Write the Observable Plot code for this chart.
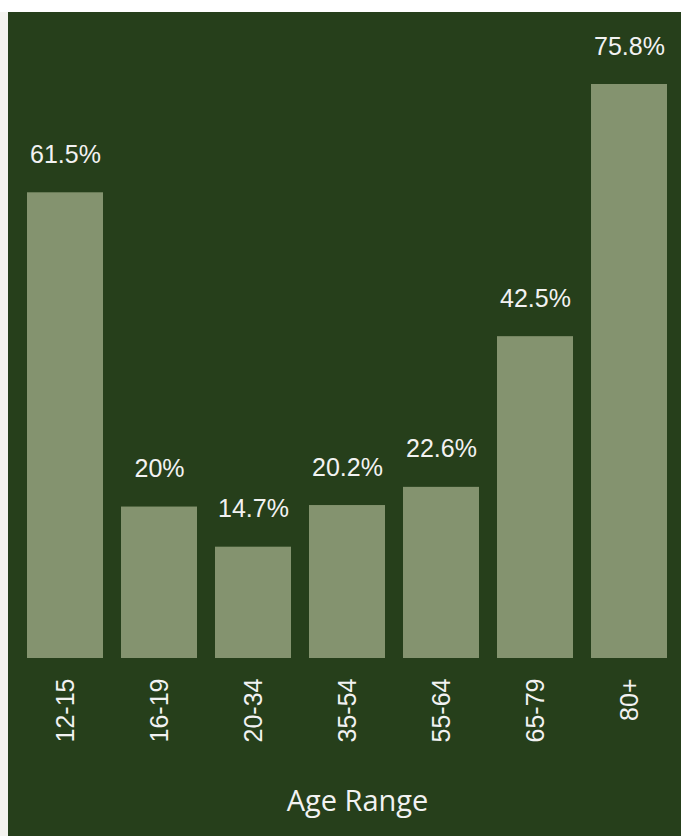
<!DOCTYPE html>
<html>
<head>
<meta charset="utf-8">
<script src="https://cdn.jsdelivr.net/npm/d3@7"></script>
<script src="https://cdn.jsdelivr.net/npm/@observablehq/plot@0.6"></script>
<style>
  html, body { margin: 0; padding: 0; background: #f4f3ef; }
  body { width: 681px; height: 836px; overflow: hidden; position: relative; }
  #top { position: absolute; left: 0; top: 0; width: 681px; height: 12px; background: #ffffff; }
  #chart { position: absolute; left: 8px; top: 12px; width: 673px; height: 824px; background: #263f1b; }
  #chart svg { display: block; }
</style>
</head>
<body>
<div id="top"></div>
<div id="chart"></div>
<script>
const ageRanges = ["12-15", "16-19", "20-34", "35-54", "55-64", "65-79", "80+"];
const percents = [61.5, 20, 14.7, 20.2, 22.6, 42.5, 75.8];
const valueLabels = ["61.5%", "20%", "14.7%", "20.2%", "22.6%", "42.5%", "75.8%"];
const axisTitle = "Age Range";

const data = ageRanges.map((a, i) => ({age: a, pct: percents[i], label: valueLabels[i]}));

const chart = Plot.plot({
  width: 673,
  height: 824,
  marginLeft: 18,
  marginRight: 13,
  marginTop: 72,
  marginBottom: 178,
  style: {background: "#263f1b", color: "#f2f2f2", fontFamily: "'Liberation Sans', Arial, sans-serif"},
  x: {domain: ageRanges, paddingInner: 0.194, paddingOuter: 0, axis: null},
  y: {domain: [0, 75.8], axis: null},
  marks: [
    Plot.barY(data, {x: "age", y: "pct", fill: "#84936f"}),
    Plot.text(data, {x: "age", y: "pct", text: "label", dy: -30, lineAnchor: "bottom", fill: "#f2f2f2", fontSize: 25}),
    Plot.axisX({tickSize: 0, tickPadding: 20, tickRotate: -90, fontSize: 25, label: null, fill: "#f2f2f2"}),
    Plot.text([axisTitle], {frameAnchor: "bottom", dx: 10, dy: 152, lineAnchor: "bottom", fill: "#f2f2f2", fontSize: 29, fontFamily: "'Open Sans', sans-serif"})
  ]
});
document.getElementById("chart").appendChild(chart);
</script>
</body>
</html>
